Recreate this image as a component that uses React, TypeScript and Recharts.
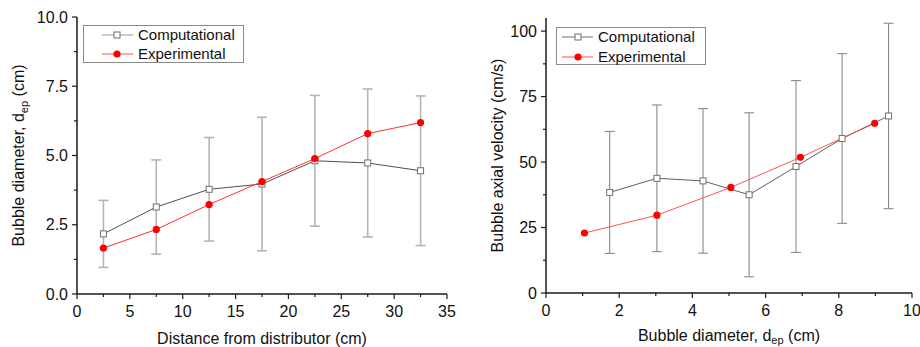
import React from 'react';
import { ComposedChart, Line, XAxis, YAxis, ErrorBar, Legend, Label } from 'recharts';

const FONT = '"Liberation Sans", Arial, Helvetica, sans-serif';

// ---- Left panel: bubble diameter vs distance from distributor ----
const distanceCm = [2.5, 7.5, 12.5, 17.5, 22.5, 27.5, 32.5];
const compDiameter = [2.17, 3.14, 3.78, 3.97, 4.81, 4.73, 4.45];
const compDiameterErr = [1.21, 1.7, 1.87, 2.41, 2.36, 2.67, 2.7];
const expDiameter = [1.66, 2.33, 3.23, 4.06, 4.89, 5.79, 6.19];
const leftXTicks = [0, 2.5, 5, 7.5, 10, 12.5, 15, 17.5, 20, 22.5, 25, 27.5, 30, 32.5, 35];
const leftYTicks = [0, 1.25, 2.5, 3.75, 5, 6.25, 7.5, 8.75, 10];

// ---- Right panel: bubble axial velocity vs bubble diameter ----
const compBubbleDiameter = [1.74, 3.03, 4.29, 5.55, 6.83, 8.09, 9.36];
const compVelocity = [38.4, 43.8, 42.8, 37.5, 48.3, 59.0, 67.6];
const compVelocityErr = [23.3, 28.0, 27.6, 31.3, 32.8, 32.4, 35.4];
const expBubbleDiameter = [1.05, 3.03, 5.05, 6.95, 8.98];
const expVelocity = [22.9, 29.7, 40.3, 51.8, 64.8];
const rightXTicks = [0, 1, 2, 3, 4, 5, 6, 7, 8, 9, 10];
const rightYTicks = [0, 12.5, 25, 37.5, 50, 62.5, 75, 87.5, 100];

const seriesNames = ['Computational', 'Experimental'];

const leftComp = distanceCm.map((x, i) => ({ x, y: compDiameter[i], err: compDiameterErr[i] }));
const leftExp = distanceCm.map((x, i) => ({ x, y: expDiameter[i] }));
const rightComp = compBubbleDiameter.map((x, i) => ({ x, y: compVelocity[i], err: compVelocityErr[i] }));
const rightExp = expBubbleDiameter.map((x, i) => ({ x, y: expVelocity[i] }));

const AXIS = '#1a1a1a';
const RED = '#ff0000';

type Orient = 'bottom' | 'left' | 'top' | 'right';

function tickRenderer(orient: Orient, majorStep: number, fmt: (v: number) => string) {
  return (props: any) => {
    const { x, y, payload } = props;
    const v = payload.value;
    const r = v / majorStep;
    const major = Math.abs(r - Math.round(r)) < 1e-6;
    const out = major ? 5 : 3;
    const inn = major ? 4 : 2;
    let ln: any = null;
    let label: any = null;
    if (orient === 'bottom') {
      ln = <line x1={x} y1={y} x2={x} y2={y + out} stroke={AXIS} strokeWidth={1.2} />;
      if (major)
        label = (
          <text x={x} y={y + 23} textAnchor="middle" fontSize={16} fontFamily={FONT} fill="#111">
            {fmt(v)}
          </text>
        );
    } else if (orient === 'left') {
      ln = <line x1={x} y1={y} x2={x - out} y2={y} stroke={AXIS} strokeWidth={1.2} />;
      if (major)
        label = (
          <text x={x - 9} y={y + 5.7} textAnchor="end" fontSize={16} fontFamily={FONT} fill="#111">
            {fmt(v)}
          </text>
        );
    } else if (orient === 'top') {
      ln = <line x1={x} y1={y} x2={x} y2={y + inn} stroke={AXIS} strokeWidth={1.2} />;
    } else {
      ln = <line x1={x} y1={y} x2={x - inn} y2={y} stroke={AXIS} strokeWidth={1.2} />;
    }
    return (
      <g>
        {ln}
        {label}
      </g>
    );
  };
}

const YTitle = (dx: number, main: string, sub: string, tail: string) => (props: any) => {
  const vb = props.viewBox || {};
  const cx = vb.x + dx;
  const cy = vb.y + vb.height / 2;
  return (
    <text
      transform={`translate(${cx},${cy}) rotate(-90)`}
      x={0}
      y={5.7}
      textAnchor="middle"
      fontSize={16}
      fontFamily={FONT}
      fill="#111"
    >
      {main}
      {sub ? (
        <tspan fontSize={11} dy={4}>
          {sub}
        </tspan>
      ) : null}
      {sub ? <tspan dy={-4}>{tail}</tspan> : null}
    </text>
  );
};

const XTitle = (dy: number, main: string, sub: string, tail: string) => (props: any) => {
  const vb = props.viewBox || {};
  const cx = vb.x + vb.width / 2;
  const cy = vb.y + dy;
  return (
    <text x={cx} y={cy + 5.7} textAnchor="middle" fontSize={16} fontFamily={FONT} fill="#111">
      {main}
      {sub ? (
        <tspan fontSize={11} dy={3}>
          {sub}
        </tspan>
      ) : null}
      {sub ? <tspan dy={-3}>{tail}</tspan> : null}
    </text>
  );
};

const LegendBox = ({ w, h, lineX1, lineX2, mx, tx, r1, r2, compColor }: any) => (
  <div
    style={{
      width: w,
      height: h,
      border: '1px solid #8a8a8a',
      boxSizing: 'border-box',
      background: '#fff',
      position: 'relative',
    }}
  >
    <svg width={w} height={h} style={{ position: 'absolute', left: -1, top: -1 }}>
      <line x1={lineX1} y1={r1} x2={lineX2} y2={r1} stroke={compColor} strokeWidth={1} />
      <rect x={mx - 3} y={r1 - 3} width={6} height={6} fill="#fff" stroke="#707070" strokeWidth={1} />
      <text x={tx} y={r1 + 5.4} fontSize={15} fontFamily={FONT} fill="#111">
        {seriesNames[0]}
      </text>
      <line x1={lineX1} y1={r2} x2={lineX2} y2={r2} stroke="#ff5050" strokeWidth={1} />
      <circle cx={mx} cy={r2} r={3.6} fill={RED} />
      <text x={tx} y={r2 + 5.4} fontSize={15} fontFamily={FONT} fill="#111">
        {seriesNames[1]}
      </text>
    </svg>
  </div>
);

const squareDot = (stroke: string, prefix: string) => (p: any) => (
  <rect
    key={`${prefix}-${p.index}`}
    x={p.cx - 3}
    y={p.cy - 3}
    width={6}
    height={6}
    fill="#fff"
    stroke={stroke}
    strokeWidth={1}
  />
);

const circleDot = (prefix: string) => (p: any) => (
  <circle key={`${prefix}-${p.index}`} cx={p.cx} cy={p.cy} r={3.6} fill={RED} stroke="none" />
);

export default function App() {
  return (
    <div
      style={{
        position: 'absolute',
        left: 0,
        top: 0,
        width: 920,
        height: 347,
        background: '#fff',
        overflow: 'hidden',
      }}
    >
      <div style={{ position: 'absolute', left: 0, top: 0 }}>
        <ComposedChart width={460} height={347} margin={{ top: 17, right: 13, bottom: 3, left: 17 }}>
          <XAxis
            xAxisId="b"
            type="number"
            dataKey="x"
            orientation="bottom"
            domain={[0, 35]}
            ticks={leftXTicks}
            interval={0}
            allowDataOverflow
            height={50}
            tickSize={0}
            tickMargin={0}
            tickLine={false}
            axisLine={{ stroke: AXIS, strokeWidth: 1.5 }}
            tick={tickRenderer('bottom', 5, (v) => String(v))}
          >
            <Label content={XTitle(44, 'Distance from distributor (cm)', '', '')} />
          </XAxis>
          <XAxis
            xAxisId="t"
            type="number"
            dataKey="x"
            orientation="top"
            domain={[0, 35]}
            ticks={leftXTicks}
            interval={0}
            allowDataOverflow
            height={0}
            tickSize={0}
            tickMargin={0}
            tickLine={false}
            axisLine={{ stroke: AXIS, strokeWidth: 1.5 }}
            tick={tickRenderer('top', 5, (v) => String(v))}
          />
          <YAxis
            yAxisId="l"
            type="number"
            orientation="left"
            domain={[0, 10]}
            ticks={leftYTicks}
            interval={0}
            allowDataOverflow
            width={60}
            tickSize={0}
            tickMargin={0}
            tickLine={false}
            axisLine={{ stroke: AXIS, strokeWidth: 1.5 }}
            tick={tickRenderer('left', 2.5, (v) => v.toFixed(1))}
          >
            <Label content={YTitle(1, 'Bubble diameter, d', 'ep', ' (cm)')} />
          </YAxis>
          <YAxis
            yAxisId="r"
            type="number"
            orientation="right"
            domain={[0, 10]}
            ticks={leftYTicks}
            interval={0}
            allowDataOverflow
            width={0}
            tickSize={0}
            tickMargin={0}
            tickLine={false}
            axisLine={{ stroke: AXIS, strokeWidth: 1.5 }}
            tick={tickRenderer('right', 2.5, (v) => String(v))}
          />
          <Line
            xAxisId="b"
            yAxisId="l"
            data={leftComp}
            dataKey="y"
            name={seriesNames[0]}
            stroke="#505050"
            strokeWidth={1}
            dot={squareDot('#707070', 'lc')}
            activeDot={false}
            isAnimationActive={false}
          >
            <ErrorBar dataKey="err" direction="y" width={5} stroke="#b5b5b5" strokeWidth={1.6} isAnimationActive={false} />
          </Line>
          <Line
            xAxisId="b"
            yAxisId="l"
            data={leftExp}
            dataKey="y"
            name={seriesNames[1]}
            stroke="#ff3030"
            strokeWidth={1}
            dot={circleDot('le')}
            activeDot={false}
            isAnimationActive={false}
          />
          <Legend
            layout="horizontal"
            verticalAlign="middle"
            align="center"
            wrapperStyle={{ left: 83, top: 25, width: 161, height: 38 }}
            content={() => (
              <LegendBox w={161} h={38} lineX1={19} lineX2={50} mx={34} tx={55} r1={10} r2={29} compColor="#9a9a9a" />
            )}
          />
        </ComposedChart>
      </div>

      <div style={{ position: 'absolute', left: 460, top: 0 }}>
        <ComposedChart width={460} height={347} margin={{ top: 18, right: 8, bottom: 4, left: 16 }}>
          <XAxis
            xAxisId="b"
            type="number"
            dataKey="x"
            orientation="bottom"
            domain={[0, 10]}
            ticks={rightXTicks}
            interval={0}
            allowDataOverflow
            height={50}
            tickSize={0}
            tickMargin={0}
            tickLine={false}
            axisLine={{ stroke: AXIS, strokeWidth: 1.5 }}
            tick={tickRenderer('bottom', 2, (v) => String(v))}
          >
            <Label content={XTitle(42, 'Bubble diameter, d', 'ep', ' (cm)')} />
          </XAxis>
          <XAxis
            xAxisId="t"
            type="number"
            dataKey="x"
            orientation="top"
            domain={[0, 10]}
            ticks={rightXTicks}
            interval={0}
            allowDataOverflow
            height={0}
            tickSize={0}
            tickMargin={0}
            tickLine={false}
            axisLine={{ stroke: AXIS, strokeWidth: 1.5 }}
            tick={tickRenderer('top', 2, (v) => String(v))}
          />
          <YAxis
            yAxisId="l"
            type="number"
            orientation="left"
            domain={[0, 105]}
            ticks={rightYTicks}
            interval={0}
            allowDataOverflow
            width={70}
            tickSize={0}
            tickMargin={0}
            tickLine={false}
            axisLine={{ stroke: AXIS, strokeWidth: 1.5 }}
            tick={tickRenderer('left', 25, (v) => String(v))}
          >
            <Label content={YTitle(21, 'Bubble axial velocity (cm/s)', '', '')} />
          </YAxis>
          <YAxis
            yAxisId="r"
            type="number"
            orientation="right"
            domain={[0, 105]}
            ticks={rightYTicks}
            interval={0}
            allowDataOverflow
            width={0}
            tickSize={0}
            tickMargin={0}
            tickLine={false}
            axisLine={{ stroke: AXIS, strokeWidth: 1.5 }}
            tick={tickRenderer('right', 25, (v) => String(v))}
          />
          <Line
            xAxisId="b"
            yAxisId="l"
            data={rightComp}
            dataKey="y"
            name={seriesNames[0]}
            stroke="#606060"
            strokeWidth={1}
            dot={squareDot('#707070', 'rc')}
            activeDot={false}
            isAnimationActive={false}
          >
            <ErrorBar dataKey="err" direction="y" width={5} stroke="#8a8a8a" strokeWidth={1.1} isAnimationActive={false} />
          </Line>
          <Line
            xAxisId="b"
            yAxisId="l"
            data={rightExp}
            dataKey="y"
            name={seriesNames[1]}
            stroke="#ff4040"
            strokeWidth={0.9}
            dot={circleDot('re')}
            activeDot={false}
            isAnimationActive={false}
          />
          <Legend
            layout="horizontal"
            verticalAlign="middle"
            align="center"
            wrapperStyle={{ left: 96, top: 27, width: 150, height: 38 }}
            content={() => (
              <LegendBox w={150} h={38} lineX1={6} lineX2={37} mx={22} tx={42} r1={10} r2={30} compColor="#707070" />
            )}
          />
        </ComposedChart>
      </div>
    </div>
  );
}
